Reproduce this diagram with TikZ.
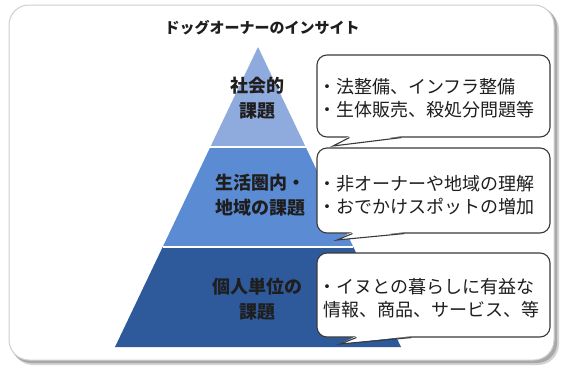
\documentclass[tikz,border=0pt]{standalone}
\usepackage{fontspec}
\newfontfamily\jp{Noto Sans CJK JP}
\usetikzlibrary{calc}
\definecolor{textDark}{HTML}{1E1E1E}
\definecolor{lineDark}{HTML}{3A3A3A}
\definecolor{frameGray}{HTML}{CFCFCF}
\definecolor{shadowGray}{HTML}{A8A8A8}
\definecolor{pyrTop}{HTML}{8FAADC}
\definecolor{pyrMid}{HTML}{5B8BD3}
\definecolor{pyrLow}{HTML}{2E5A9B}

\begin{document}
\begin{tikzpicture}[
    x=1pt, y=-1pt,
    frame/.style={draw=frameGray, fill=white, line width=1pt, rounded corners=20pt},
    ttl/.style={font=\jp\bfseries\fontsize{15}{18}\selectfont, text=textDark},
    tier/.style={font=\jp\bfseries\fontsize{18}{25}\selectfont, text=textDark, align=center},
    bubble/.style={draw=lineDark, fill=white, line width=1.1pt, rounded corners=10pt,
                   minimum width=233pt, inner sep=0pt},
    note/.style={anchor=west, align=left, inner sep=0pt, text=textDark,
                 font=\jp\fontsize{18}{23}\selectfont},
    tail/.style={draw=lineDark, line width=1.1pt},
  ]
    \useasboundingbox (0,0) rectangle (561,367);

    % frame with soft shadow
    \fill[shadowGray!50, rounded corners=21pt] (12,9) rectangle (559,365);
    \fill[shadowGray, rounded corners=20pt] (11,7) rectangle (557,363);
    \draw[frame] (9,5) rectangle (554,360);

    \node[ttl] (title) at (262,28) {ドッグオーナーのインサイト};

    % pyramid
    \coordinate (apex) at (258,47);
    \coordinate (bl) at (115,347);
    \coordinate (br) at (401,347);
    \coordinate (l1) at ($(apex)!0.3333!(bl)$);
    \coordinate (r1) at ($(apex)!0.3333!(br)$);
    \coordinate (l2) at ($(apex)!0.6667!(bl)$);
    \coordinate (r2) at ($(apex)!0.6667!(br)$);
    \fill[pyrTop] (apex) -- (l1) -- (r1) -- cycle;
    \fill[pyrMid] (l1) -- (l2) -- (r2) -- (r1) -- cycle;
    \fill[pyrLow] (l2) -- (bl) -- (br) -- (r2) -- cycle;
    \draw[white, line width=2pt] (l1) -- (r1);
    \draw[white, line width=2pt] (l2) -- (r2);

    \node[tier] (social) at (257,98) {社会的\\課題};
    \node[tier] (area) at (260,195) {生活圏内・\\地域の課題};
    \node[tier] (self) at (257,299) {個人単位の\\課題};

    % Social
    \node[bubble, minimum height=82pt] (law) at (433.5,96) {};
    \coordinate (lawtip) at (333,146);
    \fill[white] ([xshift=33pt,yshift=1.5pt]law.south west) -- (lawtip)
      -- ([xshift=85pt,yshift=1.5pt]law.south west) -- cycle;
    \draw[tail] ([xshift=33pt]law.south west) -- (lawtip) -- ([xshift=85pt]law.south west);
    \node[note] (lawtxt) at (318,98) {・法整備、インフラ整備\\・生体販売、殺処分問題等};

    % Area
    \node[bubble, minimum height=85pt] (town) at (433.5,190.5) {};
    \coordinate (towntip) at (337,240);
    \fill[white] ([xshift=36pt,yshift=1.5pt]town.south west) -- (towntip)
      -- ([xshift=88pt,yshift=1.5pt]town.south west) -- cycle;
    \draw[tail] ([xshift=36pt]town.south west) -- (towntip) -- ([xshift=88pt]town.south west);
    \node[note] (towntxt) at (318,195) {・非オーナーや地域の理解\\・おでかけスポットの増加};

    % Individual
    \node[bubble, minimum height=84pt] (life) at (433.5,295) {};
    \coordinate (lifetip) at (340,344);
    \fill[white] ([xshift=40pt,yshift=1.5pt]life.south west) -- (lifetip)
      -- ([xshift=95pt,yshift=1.5pt]life.south west) -- cycle;
    \draw[tail] ([xshift=40pt]life.south west) -- (lifetip) -- ([xshift=95pt]life.south west);
    \node[note] (lifetxt) at (318,298) {・イヌとの暮らしに有益な\\\hspace{5pt}情報、商品、サービス、等};
\end{tikzpicture}
\end{document}
